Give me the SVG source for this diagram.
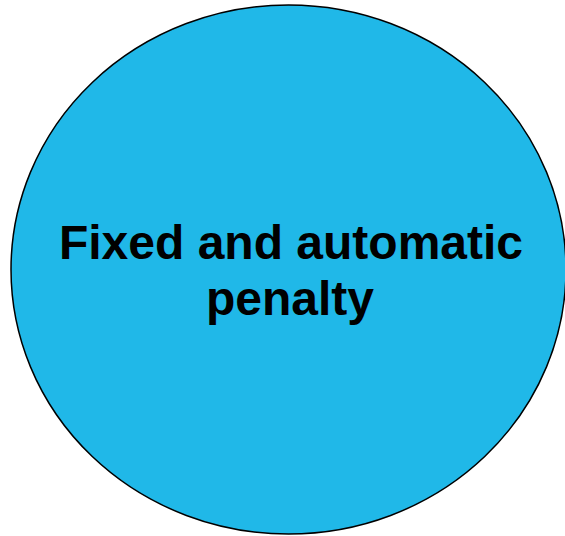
<svg xmlns="http://www.w3.org/2000/svg" width="565" height="536" viewBox="0 0 565 536">
<style>
.n{fill:#20B8E8;stroke:#000;stroke-width:1.5}
.t{font-family:"Liberation Sans",Arial,sans-serif;font-weight:bold;font-size:48px;fill:#000;text-anchor:middle}
</style>
<g id="node1">
<ellipse class="n" cx="288.5" cy="269.5" rx="277.5" ry="264.5"/>
<text class="t" x="291" y="259">Fixed and automatic</text>
<text class="t" x="290" y="315">penalty</text>
</g>
<g id="connectors"/>
</svg>
